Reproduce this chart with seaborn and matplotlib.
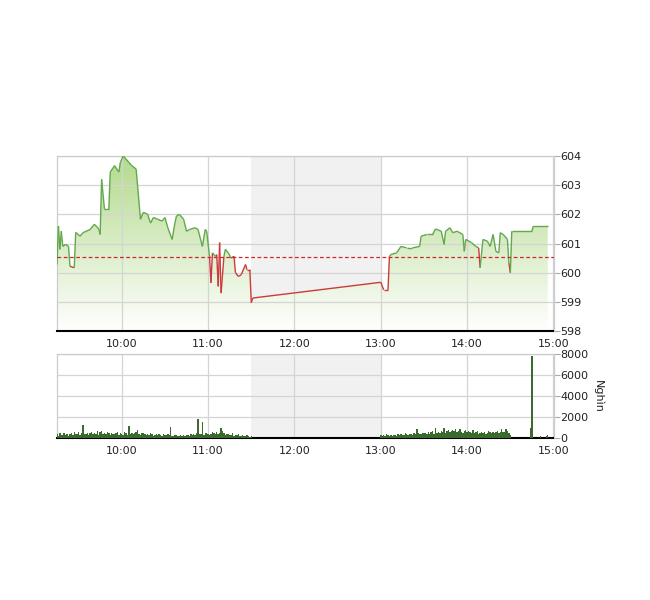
import numpy as np
import matplotlib
matplotlib.use("Agg")
import matplotlib.pyplot as plt
from matplotlib.collections import LineCollection
from matplotlib.colors import LinearSegmentedColormap
from matplotlib.patches import PathPatch
import seaborn as sns

# intraday index values (time, price)
price_times = [
    "09:15", "09:16", "09:17", "09:18", "09:19", "09:21", "09:23", "09:24", "09:27", "09:28",
    "09:31", "09:33", "09:38", "09:41", "09:44", "09:45", "09:46", "09:48", "09:51", "09:52",
    "09:55", "09:58", "09:59", "10:01", "10:05", "10:07", "10:10", "10:13", "10:15", "10:18",
    "10:20", "10:22", "10:25", "10:28", "10:30", "10:32", "10:35", "10:37", "10:38", "10:40",
    "10:43", "10:45", "10:47", "10:51", "10:53", "10:56", "10:58", "10:59", "11:01", "11:02",
    "11:03", "11:05", "11:06", "11:07", "11:08", "11:09", "11:11", "11:12", "11:14", "11:16",
    "11:18", "11:19", "11:21", "11:23", "11:26", "11:27", "11:29", "11:30", "11:31",
    "13:00", "13:02", "13:05", "13:06", "13:07", "13:11", "13:14", "13:18", "13:22", "13:27",
    "13:28", "13:32", "13:36", "13:38", "13:42", "13:44", "13:45", "13:48", "13:50", "13:53",
    "13:57", "13:58", "13:59", "14:03", "14:06", "14:08", "14:09", "14:11", "14:14", "14:16",
    "14:18", "14:20", "14:22", "14:23", "14:25", "14:28", "14:29", "14:30", "14:31", "14:45",
    "14:46", "14:56",
]
price_values = [
    600.28, 601.60, 600.80, 601.42, 600.90, 600.97, 600.90, 600.22, 600.17, 601.38,
    601.25, 601.37, 601.48, 601.66, 601.50, 601.31, 603.20, 602.17, 602.17, 603.45,
    603.67, 603.45, 603.78, 604.00, 603.78, 603.67, 603.55, 601.83, 602.07, 602.00,
    601.70, 601.89, 601.83, 601.77, 601.89, 601.54, 601.14, 601.72, 601.94, 602.00,
    601.83, 601.42, 601.48, 601.54, 601.48, 600.90, 601.48, 601.42, 600.56, 599.65,
    600.68, 600.56, 600.62, 599.53, 601.03, 599.30, 600.56, 600.80, 600.68, 600.50,
    600.56, 600.00, 599.87, 599.93, 600.28, 600.10, 600.10, 598.97, 599.13,
    599.67, 599.41, 599.41, 600.56, 600.62, 600.68, 600.90, 600.85, 600.85, 600.90,
    601.25, 601.31, 601.31, 601.50, 601.42, 600.97, 601.42, 601.54, 601.37, 601.42,
    601.31, 600.73, 601.14, 601.03, 600.90, 600.85, 600.17, 601.14, 601.08, 600.90,
    601.31, 600.73, 600.68, 601.37, 601.31, 601.14, 600.33, 600.00, 601.42, 601.42,
    601.60, 601.60,
]
ref_price = 600.55

# volume per minute (thousand shares)
vol_am_start = "09:15"
vol_am = [
    350, 200, 450, 300, 250, 500, 300, 400, 200, 350,
    450, 300, 550, 400, 350, 600, 300, 450, 1200, 350,
    400, 500, 300, 450, 600, 350, 500, 400, 650, 300,
    550, 700, 400, 500, 350, 600, 450, 300, 500, 400,
    350, 450, 600, 300, 500, 400, 250, 550, 450, 300,
    1100, 400, 500, 350, 450, 600, 750, 400, 300, 450,
    500, 350, 250, 400, 300, 450, 350, 200, 300, 400,
    250, 350, 300, 200, 400, 300, 250, 350, 300, 1050,
    200, 150, 250, 300, 200, 150, 250, 200, 300, 150,
    250, 300, 200, 350, 250, 400, 300, 450, 1800, 350,
    400, 1500, 300, 450, 500, 350, 300, 400, 550, 450,
    350, 600, 400, 500, 1000, 700, 450, 300, 400, 350,
    250, 300, 450, 200, 300, 250, 350, 200, 150, 250,
    200, 150, 250, 150, 100, 150,
]
vol_pm_start = "13:00"
vol_pm = [
    300, 150, 250, 200, 350, 250, 200, 300, 150, 250,
    300, 200, 350, 250, 400, 300, 250, 450, 350, 300,
    400, 350, 250, 500, 400, 850, 450, 350, 400, 500,
    450, 500, 400, 600, 350, 550, 650, 400, 950, 500,
    600, 450, 700, 550, 950, 500, 650, 800, 600, 700,
    750, 650, 900, 550, 700, 850, 600, 500, 650, 750,
    550, 700, 600, 450, 800, 500, 550, 650, 400, 500,
    600, 450, 550, 400, 500, 650, 550, 450, 600, 500,
    550, 650, 500, 600, 850, 550, 600, 900, 700, 500,
    300,
]
vol_close_times = ["14:44", "14:45", "14:51", "14:55", "14:56"]
vol_close = [1000, 7800, 150, 200, 250]

hour_labels = ["10:00", "11:00", "12:00", "13:00", "14:00", "15:00"]
price_ticks = [598, 599, 600, 601, 602, 603, 604]
vol_ticks = [0, 2000, 4000, 6000, 8000]


def to_hours(t):
    h, m = t.split(":")
    return int(h) + int(m) / 60


sns.set_style("white")
plt.rcParams["font.family"] = ["DejaVu Sans"]

x = np.array([to_hours(t) for t in price_times])
y = np.array(price_values)

vx = [to_hours(vol_am_start) + i / 60 for i in range(len(vol_am))]
vx += [to_hours(vol_pm_start) + i / 60 for i in range(len(vol_pm))]
vx += [to_hours(t) for t in vol_close_times]
vy = vol_am + vol_pm + vol_close

hour_pos = [to_hours(t) for t in hour_labels]

fig = plt.figure(figsize=(6.5, 6), dpi=100)
ax1 = fig.add_axes([57 / 650, 1 - 331 / 600, 496.5 / 650, 175 / 600])
ax2 = fig.add_axes([57 / 650, 1 - 438 / 600, 496.5 / 650, 84 / 600])

for ax in (ax1, ax2):
    ax.set_xlim(9.25, 15)
    ax.set_xticks(hour_pos)
    ax.set_xticklabels(hour_labels)
    ax.grid(True, color="#d4d4d4", lw=0.9)
    ax.set_axisbelow(True)
    ax.yaxis.tick_right()
    ax.tick_params(axis="x", length=0, labelsize=8, pad=6, colors="#222222")
    ax.tick_params(axis="y", length=4, width=0.8, color="#aaaaaa", labelsize=8,
                   pad=1, colors="#222222")
    for s in ("left", "top", "right"):
        ax.spines[s].set_color("#cccccc")
        ax.spines[s].set_linewidth(0.9)
    ax.spines["bottom"].set_color("black")
    ax.spines["bottom"].set_linewidth(1.5)
    ax.axvspan(11.5, 13.0, color="#8f8f8f", alpha=0.12, lw=0, zorder=0.3)

# price panel
ax1.set_ylim(598, 604)
ax1.set_yticks(price_ticks)
ax1.set_yticklabels([str(p) for p in price_ticks])

cmap = LinearSegmentedColormap.from_list("fade", ["#ffffff", "#b3da8c"])
grad = np.linspace(0, 1, 256).reshape(-1, 1)
poly = ax1.fill_between(x, y, 598, color="none", lw=0)
patch = PathPatch(poly.get_paths()[0], transform=ax1.transData,
                  facecolor="none", edgecolor="none")
ax1.add_patch(patch)
im = ax1.imshow(grad, extent=[9.25, 15, 598, 604], origin="lower",
                aspect="auto", cmap=cmap, zorder=0.4)
im.set_clip_path(patch)

pts = np.column_stack([x, y]).reshape(-1, 1, 2)
segs = np.concatenate([pts[:-1], pts[1:]], axis=1)
mid = (y[:-1] + y[1:]) / 2
cols = ["#62a84c" if m >= ref_price else "#cc3b3b" for m in mid]
ax1.add_collection(LineCollection(segs, colors=cols, linewidths=1.0, zorder=3))
ax1.axhline(ref_price, color="#cc2a2a", ls=(0, (3, 2)), lw=0.9, zorder=4)

# volume panel
ax2.set_ylim(0, 8000)
ax2.set_yticks(vol_ticks)
ax2.set_yticklabels([str(v) for v in vol_ticks])
ax2.bar(vx, vy, width=1.0 / 60, color="#3b6a2f", lw=0, zorder=3)
ax2.yaxis.set_label_position("right")
ax2.set_ylabel("Nghìn", rotation=-90, fontsize=8, labelpad=11, color="#222222")

fig.savefig("out.png", dpi=100)
